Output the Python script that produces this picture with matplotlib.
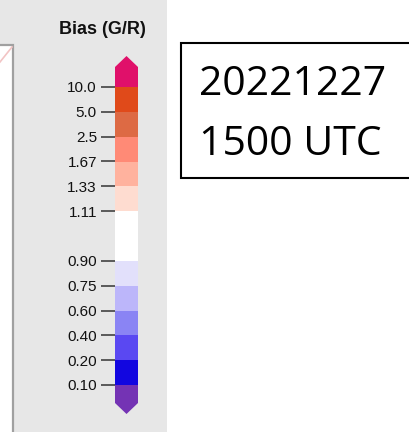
import matplotlib
matplotlib.use("Agg")
import matplotlib.pyplot as plt
from matplotlib.patches import Rectangle, Polygon

# Colour scale for the gauge/radar bias ratio
bounds = [0.10, 0.20, 0.40, 0.60, 0.75, 0.90, 1.11, 1.33, 1.67, 2.5, 5.0, 10.0]
tick_labels = ["0.10", "0.20", "0.40", "0.60", "0.75", "0.90",
               "1.11", "1.33", "1.67", "2.5", "5.0", "10.0"]
box_colors = ["#1206e0", "#5a48f2", "#8a84f4", "#bcb6fa", "#e2e0fb",
              "#ffffff", "#fedcd0", "#ffb29e", "#ff8a76", "#dd6a44", "#e04a1a"]
under_color = "#7433b4"
over_color = "#e0106a"
title = "Bias (G/R)"
stamp_lines = ["20221227", "1500 UTC"]

W, H = 410, 432
fig = plt.figure(figsize=(W / 100, H / 100), dpi=100)
fig.patch.set_facecolor("white")

# Pixel-space canvas for the panel background and the time stamp
bg = fig.add_axes([0, 0, 1, 1])
bg.set_xlim(0, W)
bg.set_ylim(H, 0)
bg.axis("off")
bg.add_patch(Rectangle((0, 0), 167, H, facecolor="#e7e7e7", edgecolor="none"))
# edge of the neighbouring map panel
bg.add_patch(Rectangle((-5, 45), 18, H, facecolor="white", edgecolor="#a0a0a0", lw=1.6))
bg.plot([0, 12], [62, 47], color="#f2c4c4", lw=1.2)
bg.text(102, 30, title, ha="center", va="center", fontsize=13,
        fontweight="bold", family="Liberation Sans", color="#111111")

# Date / time stamp box
bg.add_patch(Rectangle((181, 43), 240, 135, facecolor="white", edgecolor="black", lw=1.5))
bg.text(199, 95, stamp_lines[0], ha="left", va="baseline", fontsize=29.5,
        family="Open Sans", color="black")
bg.text(199, 155, stamp_lines[1], ha="left", va="baseline", fontsize=29.5,
        family="Open Sans", color="black")

# Colour bar: one slot per class, the neutral class spans two slots
slots = [i + (1 if b > 1 else 0) for i, b in enumerate(bounds)]
px_per_slot = (385 - 87) / (slots[-1] - slots[0])
y_top, y_bot = 56, 414
top_slot = slots[-1] + (87 - y_top) / px_per_slot
bot_slot = slots[0] - (y_bot - 385) / px_per_slot

x0, x1 = 115, 138
cax = fig.add_axes([x0 / W, 1 - y_bot / H, (x1 - x0) / W, (y_bot - y_top) / H])
cax.set_xlim(0, 1)
cax.set_ylim(bot_slot, top_slot)
cax.set_facecolor("none")
for s in cax.spines.values():
    s.set_visible(False)

for lo, hi, c in zip(slots[:-1], slots[1:], box_colors):
    cax.bar(0.5, hi - lo, bottom=lo, width=1.0, color=c, edgecolor="none")

ext_rect = 20 / px_per_slot
cax.add_patch(Polygon([(0, slots[-1]), (1, slots[-1]), (1, slots[-1] + ext_rect),
                       (0.5, top_slot), (0, slots[-1] + ext_rect)],
                      closed=True, facecolor=over_color, edgecolor="none"))
cax.add_patch(Polygon([(0, slots[0]), (1, slots[0]), (1, slots[0] - ext_rect + 2 / px_per_slot),
                       (0.5, bot_slot), (0, slots[0] - ext_rect + 2 / px_per_slot)],
                      closed=True, facecolor=under_color, edgecolor="none"))

cax.set_xticks([])
cax.set_yticks(slots)
cax.set_yticklabels(tick_labels, family="Liberation Sans", fontsize=11, color="#111111")
cax.tick_params(axis="y", direction="out", length=10, width=1.1, color="#333333", pad=3)

fig.savefig("out.png", dpi=100, facecolor="white")
